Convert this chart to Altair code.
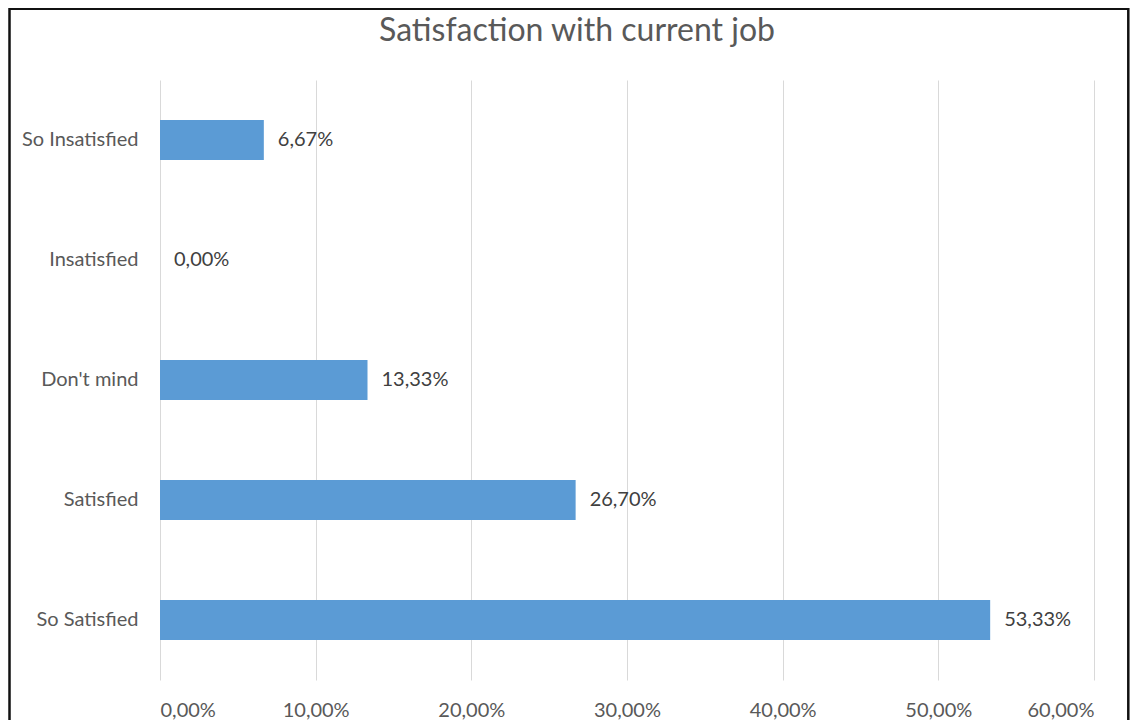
import altair as alt
import pandas as pd

categories = ["So Insatisfied", "Insatisfied", "Don't mind", "Satisfied", "So Satisfied"]
shares = [0.0667, 0.0, 0.1333, 0.2670, 0.5333]
x_ticks = [0, 0.1, 0.2, 0.3, 0.4, 0.5, 0.6]
title_text = "Satisfaction with current job"

df = pd.DataFrame({"category": categories, "share": shares})

FONT = "Lato"
TEXT = "#595959"

x_enc = alt.X(
    "share:Q",
    scale=alt.Scale(domain=[0, 0.6], nice=False),
    axis=alt.Axis(
        values=x_ticks,
        title=None,
        domain=False,
        ticks=False,
        labelPadding=20,
        labelFontSize=20,
        labelColor=TEXT,
        labelFont=FONT,
        labelExpr="replace(format(datum.value, '.2%'), '.', ',')",
        grid=True,
        gridColor="#D9D9D9",
        gridWidth=1,
    ),
)
y_enc = alt.Y(
    "category:N",
    sort=categories,
    scale=alt.Scale(paddingInner=0.667, paddingOuter=0.333),
    axis=alt.Axis(
        title=None,
        domain=False,
        ticks=False,
        labelPadding=22,
        labelFontSize=20,
        labelColor=TEXT,
        labelFont=FONT,
        grid=False,
    ),
)

bars = alt.Chart(df).mark_bar(color="#5B9BD5").encode(x=x_enc, y=y_enc)

labels = (
    alt.Chart(df)
    .transform_calculate(label="replace(format(datum.share, '.2%'), '.', ',')")
    .mark_text(align="left", baseline="middle", dx=14, fontSize=20, font=FONT, color="#404040")
    .encode(x="share:Q", y=alt.Y("category:N", sort=categories), text="label:N")
)

title = (
    alt.Chart(pd.DataFrame({"t": [title_text]}))
    .mark_text(align="center", baseline="alphabetic", fontSize=32, font=FONT, color=TEXT)
    .encode(x=alt.value(417), y=alt.value(-39), text="t:N")
)

frame = (
    alt.Chart(df.head(1))
    .mark_rect(filled=False, stroke="#111111", strokeWidth=2.5, clip=False)
    .encode(
        x=alt.value(-150.5),
        x2=alt.value(968.3),
        y=alt.value(-71.3),
        y2=alt.value(700),
    )
)

chart = (
    alt.layer(bars, labels, title, frame)
    .properties(
        width=934,
        height=600,
        autosize=alt.AutoSizeParams(type="none"),
        padding={"left": 152, "top": 72, "right": 36, "bottom": 40},
        background="white",
    )
    .configure_view(stroke=None)
)

chart.save("out.html", embed_options={"renderer": "svg", "actions": False})
